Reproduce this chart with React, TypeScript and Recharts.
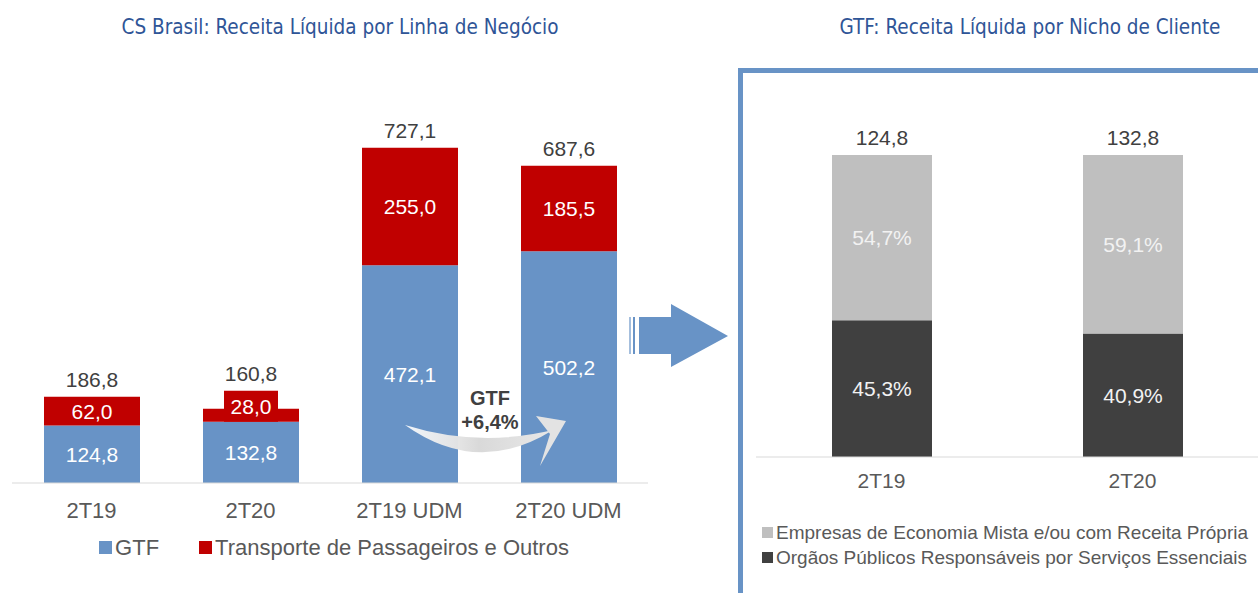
import React from 'react';
import { BarChart, Bar, XAxis, YAxis, LabelList, Legend } from 'recharts';

// CS Brasil: receita líquida por linha de negócio (R$ milhões)
const linhaCategorias = ['2T19', '2T20', '2T19 UDM', '2T20 UDM'];
const gtfValores = [124.8, 132.8, 472.1, 502.2];
const transporteValores = [62.0, 28.0, 255.0, 185.5];
const totaisLinha = [186.8, 160.8, 727.1, 687.6];

// GTF: receita líquida por nicho de cliente (%)
const nichoCategorias = ['2T19', '2T20'];
const gtfTotais = [124.8, 132.8];
const mistaPct = [54.7, 59.1];
const orgaosPct = [45.3, 40.9];

const AZUL = '#6893C6';
const VERMELHO = '#C00000';
const CINZA_CLARO = '#BFBFBF';
const CINZA_ESCURO = '#404040';
const TEXTO = '#595959';
const FONTE = '"Liberation Sans", Arial, sans-serif';
const FONTE_TITULO = '"DejaVu Sans Condensed", "Liberation Sans Narrow", sans-serif';
const TAM_ROTULO = 21;

const fmt = (v: number) => v.toFixed(1).replace('.', ',');

const dadosLinha = linhaCategorias.map((cat, i) => ({
  cat,
  gtf: gtfValores[i],
  transporte: transporteValores[i],
  total: totaisLinha[i],
}));

const dadosNicho = nichoCategorias.map((cat, i) => ({
  cat,
  mista: mistaPct[i],
  orgaos: orgaosPct[i],
  total: gtfTotais[i],
}));

// total acima da pilha; sobe quando o segmento de cima é pequeno (rótulo com caixa)
const RotuloTotal = (props: any) => {
  const { x, y, width, height, value } = props;
  const topo = height < 20 ? y + height - 31 : y;
  return (
    <text x={x + width / 2} y={topo - 10} textAnchor="middle" fill={CINZA_ESCURO} fontSize={TAM_ROTULO} fontFamily={FONTE}>
      {fmt(value)}
    </text>
  );
};

const RotuloInterno = (cor: string, texto: string, sufixo = '') => (props: any) => {
  const { x, y, width, height, value } = props;
  const cx = x + width / 2;
  if (height < 20) {
    const base = y + height;
    return (
      <g>
        <rect x={cx - 27} y={base - 31} width={54} height={31} fill={cor} />
        <text x={cx} y={base - 15} textAnchor="middle" dominantBaseline="central" fill={texto} fontSize={TAM_ROTULO} fontFamily={FONTE}>
          {fmt(value) + sufixo}
        </text>
      </g>
    );
  }
  return (
    <text x={cx} y={y + height / 2} textAnchor="middle" dominantBaseline="central" fill={texto} fontSize={TAM_ROTULO} fontFamily={FONTE}>
      {fmt(value) + sufixo}
    </text>
  );
};

const ordenar = (payload: any[], ordem: string[]) =>
  [...(payload || [])].sort((a, b) => ordem.indexOf(a.dataKey) - ordem.indexOf(b.dataKey));

const LegendaLinha = ({ payload }: any) => (
  <div style={{ display: 'flex', justifyContent: 'center', gap: 40, fontSize: 22, color: TEXTO, fontFamily: FONTE, lineHeight: '25px' }}>
    {ordenar(payload, ['gtf', 'transporte']).map((p: any) => (
      <span key={p.value} style={{ display: 'flex', alignItems: 'center' }}>
        <span style={{ width: 13, height: 13, background: p.color, marginRight: 3, display: 'inline-block' }} />
        {p.value}
      </span>
    ))}
  </div>
);

const LegendaNicho = ({ payload }: any) => (
  <div style={{ fontSize: 19, color: TEXTO, fontFamily: FONTE, lineHeight: '25px', whiteSpace: 'nowrap' }}>
    {ordenar(payload, ['mista', 'orgaos']).map((p: any) => (
      <div key={p.value} style={{ display: 'flex', alignItems: 'center' }}>
        <span style={{ width: 11, height: 11, background: p.color, marginRight: 3, display: 'inline-block' }} />
        {p.value}
      </div>
    ))}
  </div>
);

const titulo = (cx: number): React.CSSProperties => ({
  position: 'absolute',
  top: 15,
  left: cx - 300,
  width: 600,
  textAlign: 'center',
  fontFamily: FONTE_TITULO,
  fontSize: 20.5,
  color: '#2F5597',
});

export default function App() {
  return (
    <div style={{ position: 'absolute', top: 0, left: 0, width: 1258, height: 593, overflow: 'hidden', background: '#fff' }}>
      <div style={titulo(340)}>CS Brasil: Receita Líquida por Linha de Negócio</div>
      <div style={titulo(1030)}>GTF: Receita Líquida por Nicho de Cliente</div>

      <div style={{ position: 'absolute', left: 0, top: 0 }}>
        <BarChart width={660} height={593} data={dadosLinha} margin={{ top: 114, right: 12, bottom: 80, left: 12 }}>
          <YAxis hide domain={[0, 800]} />
          <XAxis
            dataKey="cat"
            height={30}
            tickLine={false}
            tickSize={0}
            tickMargin={19}
            axisLine={{ stroke: '#D9D9D9' }}
            tick={{ fill: TEXTO, fontSize: 22, fontFamily: FONTE }}
          />
          <Legend
            verticalAlign="middle"
            align="center"
            content={<LegendaLinha />}
            wrapperStyle={{ top: 535, left: 0, width: 668 }}
          />
          <Bar dataKey="gtf" name="GTF" stackId="a" fill={AZUL} barSize={96} isAnimationActive={false}>
            <LabelList dataKey="gtf" content={RotuloInterno(AZUL, '#FFFFFF')} />
          </Bar>
          <Bar dataKey="transporte" name="Transporte de Passageiros e Outros" stackId="a" fill={VERMELHO} barSize={96} isAnimationActive={false}>
            <LabelList dataKey="transporte" content={RotuloInterno(VERMELHO, '#FFFFFF')} />
            <LabelList dataKey="total" content={RotuloTotal} />
          </Bar>
        </BarChart>
      </div>

      <div style={{ position: 'absolute', left: 738, top: 68, width: 700, height: 700, border: '5px solid ' + AZUL, boxSizing: 'border-box' }} />

      <div style={{ position: 'absolute', left: 740, top: 0 }}>
        <BarChart width={518} height={593} data={dadosNicho} margin={{ top: 155, right: 0, bottom: 106, left: 16 }}>
          <YAxis hide domain={[0, 100]} />
          <XAxis
            dataKey="cat"
            height={30}
            tickLine={false}
            tickSize={0}
            tickMargin={16}
            axisLine={{ stroke: '#D9D9D9' }}
            tick={{ fill: TEXTO, fontSize: 21, fontFamily: FONTE }}
          />
          <Legend
            verticalAlign="middle"
            align="center"
            layout="vertical"
            content={<LegendaNicho />}
            wrapperStyle={{ top: 520, left: 22, width: 496 }}
          />
          <Bar dataKey="orgaos" name="Orgãos Públicos Responsáveis por Serviços Essenciais" stackId="b" fill={CINZA_ESCURO} barSize={100} isAnimationActive={false}>
            <LabelList dataKey="orgaos" content={RotuloInterno(CINZA_ESCURO, '#F2F2F2', '%')} />
          </Bar>
          <Bar dataKey="mista" name="Empresas de Economia Mista e/ou com Receita Própria" stackId="b" fill={CINZA_CLARO} barSize={100} isAnimationActive={false}>
            <LabelList dataKey="mista" content={RotuloInterno(CINZA_CLARO, '#F2F2F2', '%')} />
            <LabelList dataKey="total" content={RotuloTotal} />
          </Bar>
        </BarChart>
      </div>

      <svg width={1258} height={593} style={{ position: 'absolute', left: 0, top: 0, pointerEvents: 'none' }}>
        <defs>
          <linearGradient id="arco" x1="0" y1="0" x2="1" y2="0">
            <stop offset="0" stopColor="#FFFFFF" stopOpacity={0.9} />
            <stop offset="0.5" stopColor="#D9D9D9" />
            <stop offset="1" stopColor="#E8E8E8" />
          </linearGradient>
        </defs>
        {/* seta grande entre os gráficos */}
        <rect x={629} y={317} width={2} height={37} fill={AZUL} opacity={0.6} />
        <rect x={633} y={317} width={2} height={37} fill={AZUL} />
        <polygon points="639,317 671,317 671,304 728,336 671,367 671,354 639,354" fill={AZUL} />
        {/* seta curva GTF */}
        <path d="M405,425 Q478,477 553,430 Q478,448 405,425 Z" fill="url(#arco)" />
        <polygon points="536,416 566,421 540,466 550,434" fill="#E3E3E3" />
        <text x={490} y={398} textAnchor="middle" dominantBaseline="central" fontFamily={FONTE} fontWeight="bold" fontSize={20} fill={CINZA_ESCURO}>
          GTF
        </text>
        <text x={490} y={422} textAnchor="middle" dominantBaseline="central" fontFamily={FONTE} fontWeight="bold" fontSize={20} fill={CINZA_ESCURO}>
          +6,4%
        </text>
      </svg>
    </div>
  );
}
